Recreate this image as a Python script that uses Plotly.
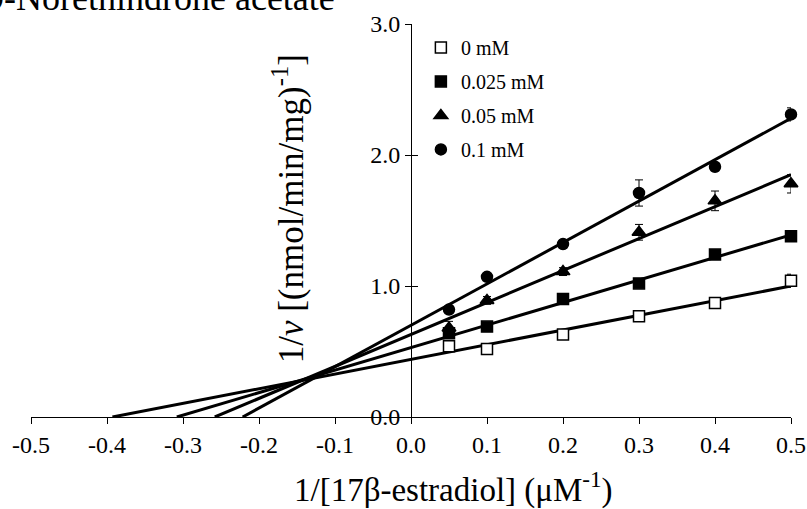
import plotly.graph_objects as go

# 1/[17b-estradiol] (uM^-1)
inv_substrate = [0.05, 0.1, 0.2, 0.3, 0.4, 0.5]

series_names = ['0 mM', '0.025 mM', '0.05 mM', '0.1 mM']

# 1/v for each inhibitor concentration
inv_v_0 = [0.54, 0.52, 0.63, 0.77, 0.87, 1.04]
inv_v_025 = [0.64, 0.69, 0.90, 1.02, 1.24, 1.38]
inv_v_05 = [0.68, 0.89, 1.11, 1.41, 1.65, 1.78]
inv_v_1 = [0.82, 1.07, 1.32, 1.71, 1.91, 2.31]

# error bars (SD)
err_0 = [0.02, 0.01, 0.02, 0.02, 0.02, 0.05]
err_025 = [0.02, 0.02, 0.02, 0.02, 0.02, 0.02]
err_05 = [0.05, 0.03, 0.03, 0.06, 0.075, 0.07]
err_1 = [0.02, 0.02, 0.03, 0.10, 0.03, 0.05]

# fitted Lineweaver-Burk lines (slope, y-intercept)
fit_slope = [1.12, 1.72, 2.44, 3.16]
fit_intercept = [0.44, 0.53, 0.63, 0.70]

x_ticks = [-0.5, -0.4, -0.3, -0.2, -0.1, 0.0, 0.1, 0.2, 0.3, 0.4, 0.5]
y_ticks = [0.0, 1.0, 2.0, 3.0]

FONT = 'Liberation Serif'

ys = [inv_v_0, inv_v_025, inv_v_05, inv_v_1]
errs = [err_0, err_025, err_05, err_1]
symbols = ['square', 'square', 'triangle-up', 'circle']
fills = ['white', 'black', 'black', 'black']
sizes = [11, 11, 12, 11]

fig = go.Figure()

# regression lines, from x-intercept to last point
for m, b in zip(fit_slope, fit_intercept):
    x0 = -b / m
    x1 = inv_substrate[-1]
    fig.add_trace(go.Scatter(
        x=[x0, x1], y=[m * x0 + b, m * x1 + b],
        mode='lines', line=dict(color='black', width=3),
        showlegend=False, hoverinfo='skip', cliponaxis=False
    ))

# data points
for name, y, e, sym, fc, sz in zip(series_names, ys, errs, symbols, fills, sizes):
    fig.add_trace(go.Scatter(
        x=inv_substrate, y=y, mode='markers', name=name,
        legendgroup=name, cliponaxis=False,
        marker=dict(symbol=sym, size=sz, color=fc,
                    line=dict(color='black', width=1.5)),
        error_y=dict(type='data', array=e, color='black',
                     thickness=1, width=4)
    ))

# dummy trace on second y axis for crossing ticks
fig.add_trace(go.Scatter(x=[0], y=[0], yaxis='y2', mode='markers',
                         marker=dict(opacity=0), showlegend=False,
                         hoverinfo='skip'))

fig.update_layout(
    width=807, height=509,
    margin=dict(l=31, r=16, t=24, b=92, autoexpand=False),
    paper_bgcolor='white', plot_bgcolor='white',
    font=dict(family=FONT, size=22, color='black'),
    showlegend=True,
    legend=dict(x=0.513, y=0.99, xanchor='left', yanchor='top',
                bgcolor='rgba(0,0,0,0)', font=dict(size=20),
                itemwidth=30, tracegroupgap=5, traceorder='grouped'),
    xaxis=dict(range=[-0.5, 0.5], tickvals=x_ticks,
               ticktext=[f'{v:.1f}' for v in x_ticks],
               showgrid=False, zeroline=False, showline=True,
               linecolor='black', linewidth=1, automargin=False,
               ticks='outside', ticklen=6, tickcolor='black',
               tickfont=dict(size=24)),
    yaxis=dict(range=[0, 3.0], tickvals=y_ticks,
               ticktext=[f'{v:.1f}' for v in y_ticks],
               anchor='free', position=0.5, automargin=False,
               showgrid=False, zeroline=False, showline=True,
               linecolor='black', linewidth=1,
               ticks='outside', ticklen=6, tickcolor='black',
               tickfont=dict(size=24)),
    yaxis2=dict(range=[0, 3.0], tickvals=y_ticks, overlaying='y',
                anchor='free', position=0.5, side='left', automargin=False,
                showgrid=False, zeroline=False, showline=False,
                ticks='inside', ticklen=6, tickcolor='black',
                showticklabels=False),
)

# axis titles and panel heading
fig.add_annotation(
    text='1/[17β-estradiol] (μM<sup>-1</sup>)',
    xref='paper', yref='paper', x=0.556, y=-0.18,
    xanchor='center', yanchor='middle', showarrow=False,
    font=dict(family=FONT, size=33)
)
fig.add_annotation(
    text='1/<i>v</i> [(nmol/min/mg)<sup>-1</sup>]',
    xref='paper', yref='paper', x=0.339, y=0.53,
    xanchor='center', yanchor='middle', textangle=-90, showarrow=False,
    font=dict(family=FONT, size=35)
)
fig.add_annotation(
    text='19-Norethindrone acetate',
    xref='paper', yref='paper', x=-0.085, y=1.01,
    xanchor='left', yanchor='bottom', showarrow=False,
    font=dict(family=FONT, size=36)
)

fig.write_html('out.html', config={'displayModeBar': False},
               post_script="document.body.style.margin='0';")
